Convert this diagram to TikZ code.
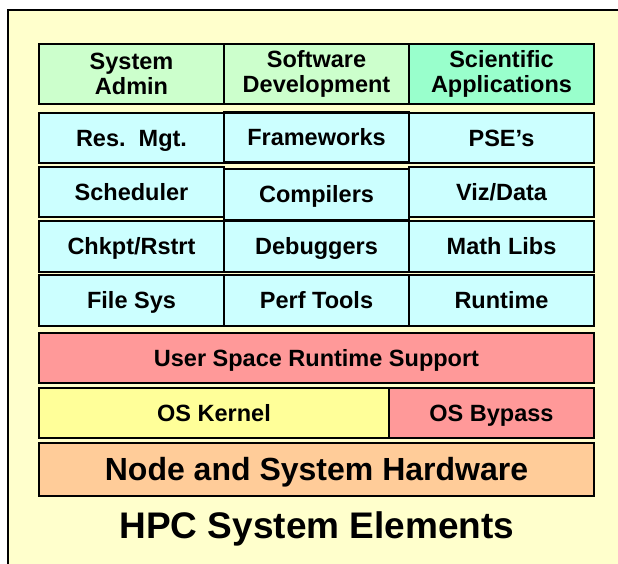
\documentclass[tikz,border=0pt]{standalone}
\usepackage{fontspec}
\setmainfont{Liberation Sans}
\usepackage{tikz}
\definecolor{panelbg}{HTML}{FFFFCC}
\definecolor{admingreen}{HTML}{CCFFCC}
\definecolor{scigreen}{HTML}{99FFCC}
\definecolor{toolcyan}{HTML}{CCFFFF}
\definecolor{runtimered}{HTML}{FF9999}
\definecolor{kernelyellow}{HTML}{FFFF99}
\definecolor{hworange}{HTML}{FFCC99}

\begin{document}
\begin{tikzpicture}[x=1pt,y=-1pt,
    cell/.style={draw, line width=2.5pt, rectangle, inner sep=0pt, align=center,
        minimum width=185pt, minimum height=50pt,
        font=\bfseries\fontsize{23.5}{25}\selectfont},
    layer/.style={cell, text height=17pt, text depth=1pt},
    tool/.style={layer, fill=toolcyan}]
        \useasboundingbox (0,0) rectangle (618,563);

        % Draw the panel
        \fill[panelbg] (8,10) rectangle (640,580);
        \draw[line width=2pt] (8,580) -- (8,10) -- (640,10);

        % Draw the user groups
        \node[cell, fill=admingreen, minimum height=60pt] (admin) at (131.5,74) {System\\Admin};
        \node[cell, fill=admingreen, minimum height=60pt] (devel) at (316.5,74) {Software\\Development};
        \node[cell, fill=scigreen, minimum height=60pt] (sciapp) at (501.5,74) {Scientific\\Applications};

        % Draw the tool cells
        \node[tool] (resmgt) at (131.5,138) {Res.\ \ Mgt.};
        \node[tool] (frameworks) at (316.5,137.5) {Frameworks};
        \node[tool] (pses) at (501.5,138) {PSE’s};

        \node[tool] (scheduler) at (131.5,192) {Scheduler};
        \node[tool, minimum height=51pt] (compilers) at (316.5,194.5) {Compilers};
        \node[tool] (vizdata) at (501.5,192) {Viz/Data};

        \node[tool, minimum height=51pt] (chkpt) at (131.5,246.5) {Chkpt/Rstrt};
        \node[tool, minimum height=51pt] (debuggers) at (316.5,246.5) {Debuggers};
        \node[tool, minimum height=51pt] (mathlibs) at (501.5,246.5) {Math Libs};

        \node[tool, minimum height=51pt] (filesys) at (131.5,300.5) {File Sys};
        \node[tool, minimum height=51pt] (perftools) at (316.5,300.5) {Perf Tools};
        \node[tool, minimum height=51pt] (runtime) at (501.5,300.5) {Runtime};

        % Draw the system layers
        \node[layer, fill=runtimered, minimum width=555pt] (userspace) at (316.5,358) {User Space Runtime Support};
        \node[layer, fill=kernelyellow, minimum width=350pt] (kernel) at (214,413) {OS Kernel};
        \node[layer, fill=runtimered, minimum width=205pt] (bypass) at (491.5,413) {OS Bypass};
        \node[layer, fill=hworange, minimum width=555pt, minimum height=53pt,
            text height=23pt, text depth=2pt,
            font=\bfseries\fontsize{32}{34}\selectfont] (hardware) at (316.5,469.5) {Node and System Hardware};

        % Label the picture
        \node[font=\bfseries\fontsize{37}{40}\selectfont] (title) at (317,529) {HPC System Elements};

    \end{tikzpicture}
\end{document}
